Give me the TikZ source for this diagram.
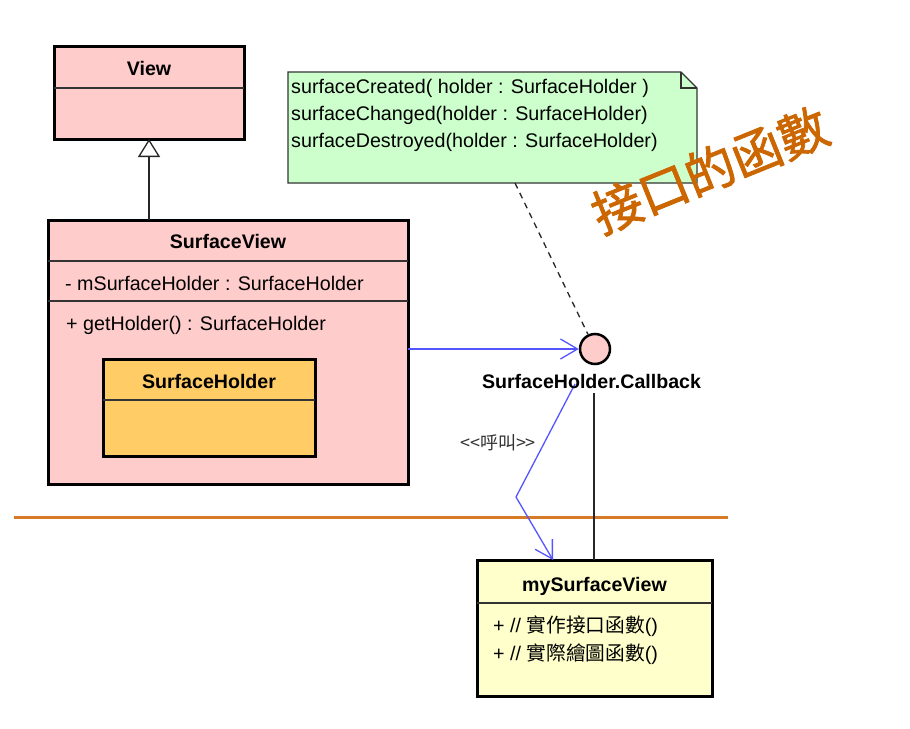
\documentclass[tikz,border=0pt]{standalone}
\usepackage{fontspec}
\setmainfont{Liberation Sans}
\newfontfamily\cjk{Noto Sans CJK TC}
\newfontfamily\cjkann[FakeBold=1.5]{Noto Sans CJK TC}
\usetikzlibrary{arrows.meta,calc}

\definecolor{pinkfill}{RGB}{255,204,204}
\definecolor{orangefill}{RGB}{255,204,102}
\definecolor{greenfill}{RGB}{204,255,204}
\definecolor{yellowfill}{RGB}{255,255,204}
\definecolor{callblue}{RGB}{85,85,255}
\definecolor{sepor}{RGB}{214,122,40}
\definecolor{cjkor}{RGB}{204,102,0}

\begin{document}
\begin{tikzpicture}[x=1pt,y=-1pt,
  classbox/.style={draw=black, line width=3pt, inner sep=0pt, outer sep=0pt},
  divider/.style={line width=1.3pt, draw=black!80},
  title/.style={font=\fontsize{19.6}{23}\selectfont\bfseries, inner sep=0pt, anchor=base},
  member/.style={font=\fontsize{19.7}{23}\selectfont, inner sep=0pt, anchor=base west},
  bluearrow/.style={draw=callblue, line width=1.3pt, -{Straight Barb[length=17pt,width=20pt,line width=1.3pt]}},
  plainline/.style={draw=black!85, line width=1.3pt},
]
\useasboundingbox (0,0) rectangle (910,728);
\fill[white] (0,0) rectangle (910,728);

% separator
\coordinate (sepL) at (14,517);
\coordinate (sepR) at (728,517);
\draw[sepor, line width=3pt] (sepL) -- (sepR);

% View
\node[classbox, fill=pinkfill, minimum width=190pt, minimum height=93pt] (view) at (149,92.5) {};
\draw[divider] ($(view.north west)+(0,42)$) -- ($(view.north east)+(0,42)$);
\node[title] (viewt) at (149,75) {View};

% SurfaceView
\node[classbox, fill=pinkfill, minimum width=360pt, minimum height=264pt] (sv) at (228,352) {};
\draw[divider] ($(sv.north west)+(0,41)$) -- ($(sv.north east)+(0,41)$);
\draw[divider] ($(sv.north west)+(0,81)$) -- ($(sv.north east)+(0,81)$);
\node[title] (svt) at (228,248) {SurfaceView};
\node[member] (sva) at (65,290) {- mSurfaceHolder : SurfaceHolder};
\node[member] (svm) at (66,330) {+ getHolder() : SurfaceHolder};

% inner SurfaceHolder
\node[classbox, fill=orangefill, minimum width=212pt, minimum height=97pt] (sh) at (209,407.5) {};
\draw[divider] ($(sh.north west)+(0,41)$) -- ($(sh.north east)+(0,41)$);
\node[title] (sht) at (209,388) {SurfaceHolder};

% generalization
\draw[plainline, -{Triangle[open,length=18pt,width=22pt,line width=1.3pt]}] (view.south |- sv.north) -- (view.south);

% note
\node[minimum width=409pt, minimum height=111pt, inner sep=0pt, outer sep=0pt] (note) at (492.5,127.5) {};
\draw[fill=greenfill, draw=black!80, line width=1.3pt] (note.south west) -- (note.north west) -- ($(note.north east)+(-16,0)$) -- ($(note.north east)+(0,16)$) -- (note.south east) -- cycle;
\draw[draw=black!80, line width=1.3pt] ($(note.north east)+(-16,0)$) -- ($(note.north east)+(-16,16)$) -- ($(note.north east)+(0,16)$);
\node[member] (n1) at (291,93) {surfaceCreated( holder : SurfaceHolder )};
\node[member] (n2) at (291,120) {surfaceChanged(holder : SurfaceHolder)};
\node[member] (n3) at (291,147) {surfaceDestroyed(holder : SurfaceHolder)};

% interface circle
\node[circle, draw=black, fill=pinkfill, line width=2.5pt, minimum size=30pt, inner sep=0pt] (cb) at (595,349) {};

% dashed note link
\coordinate (nb) at ($(note.south west)!0.555!(note.south east)$);
\draw[plainline, dash pattern=on 6pt off 5pt] (nb) -- (cb);

% realization arrow
\draw[bluearrow] (sv.east |- cb.west) -- (cb.west);

% mySurfaceView
\node[classbox, fill=yellowfill, minimum width=235pt, minimum height=136pt] (msv) at (594.5,628) {};
\draw[divider] ($(msv.north west)+(0,43)$) -- ($(msv.north east)+(0,43)$);
\node[title] (msvt) at (594.5,591) {mySurfaceView};
\node[member] (m1) at (493,632) {+ // {\cjk 實作接口函數}()};
\node[member] (m2) at (493,660) {+ // {\cjk 實際繪圖函數}()};

% interface to implementation line
\coordinate (cbl) at (594,393);
\draw[plainline] (cbl) -- (cbl |- msv.north);

% call line
\coordinate (cs) at (575,384);
\coordinate (bend) at (516,497);
\coordinate (ce) at ($(msv.north west)+(76,0)$);
\draw[bluearrow] (cs) -- (bend) -- (ce);
\node[font=\cjk\fontsize{18}{21}\selectfont, inner sep=0pt, text=black!80] (calllbl) at (498,443) {<<呼叫>>};

% callback label
\node[title] (cbt) at (591.5,388) {SurfaceHolder.Callback};

% annotation
\node[font=\cjkann\fontsize{50}{58}\selectfont, text=cjkor, rotate=22, inner sep=0pt] (ann) at (710,170) {接口的函數};
\end{tikzpicture}
\end{document}
